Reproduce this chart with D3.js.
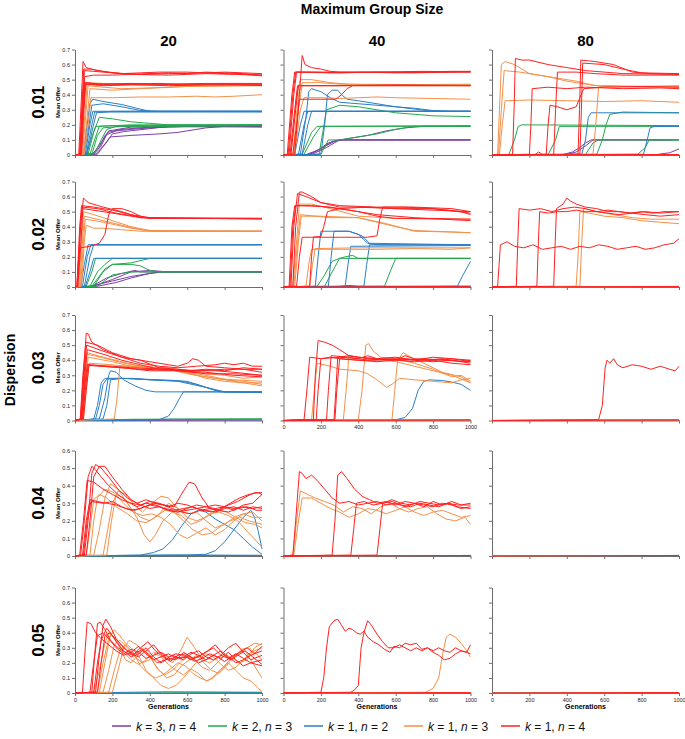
<!DOCTYPE html>
<html><head><meta charset="utf-8">
<script src="https://cdn.jsdelivr.net/npm/d3@7"></script>
<style>body{margin:0;background:#fff}svg{display:block}text{font-family:"Liberation Sans",Arial,Helvetica,sans-serif}</style>
</head><body><svg id="c" width="685" height="739"></svg>
<script>
// ---------- labels / categories ----------
const seriesNames = [["k"," = 3, ","n"," = 4"],["k"," = 2, ","n"," = 3"],["k"," = 1, ","n"," = 2"],["k"," = 1, ","n"," = 3"],["k"," = 1, ","n"," = 4"]];
const seriesColors = ["#7b3fa6","#22a94c","#2a7fc8","#f59048","#ff2020"];
const rowLabels = ["0.01","0.02","0.03","0.04","0.05"];
const colLabels = ["20","40","80"];
const rowYMax = [0.7,0.7,0.7,0.6,0.7];
const xTicks = [0,200,400,600,800,1000];

// ---------- data: each line = [seriesIndex, gen0,val0, gen1,val1, ...] ----------
const r1c1 = [
[0, 0,0, 90,0.005, 130,0.05, 160,0.13, 220,0.16, 300,0.17, 400,0.18, 500,0.185, 600,0.19, 800,0.19, 1000,0.19],
[0, 0,0, 100,0.005, 140,0.06, 175,0.15, 250,0.17, 350,0.18, 450,0.19, 1000,0.19],
[0, 0,0, 110,0.005, 160,0.07, 190,0.12, 300,0.13, 450,0.14, 550,0.15, 700,0.18, 800,0.19, 1000,0.19],
[0, 0,0, 95,0.005, 150,0.1, 180,0.16, 300,0.185, 1000,0.19],
[0, 0,0, 120,0.005, 170,0.09, 200,0.14, 260,0.155, 400,0.175, 500,0.19, 1000,0.185],
[1, 0,0, 60,0.005, 90,0.12, 110,0.19, 200,0.195, 400,0.195, 1000,0.2],
[1, 0,0, 70,0.005, 100,0.15, 130,0.25, 200,0.24, 300,0.22, 400,0.21, 500,0.2, 1000,0.2],
[1, 0,0, 80,0.005, 110,0.12, 130,0.19, 300,0.2, 1000,0.2],
[1, 0,0, 90,0.005, 120,0.13, 150,0.18, 250,0.19, 1000,0.195],
[1, 0,0, 105,0.01, 140,0.1, 170,0.17, 220,0.19, 1000,0.195],
[2, 0,0, 45,0.005, 65,0.2, 80,0.34, 95,0.37, 150,0.355, 250,0.335, 330,0.31, 400,0.29, 1000,0.29],
[2, 0,0, 50,0.005, 75,0.2, 90,0.33, 150,0.34, 250,0.32, 350,0.295, 450,0.29, 1000,0.29],
[2, 0,0, 55,0.005, 80,0.2, 95,0.29, 300,0.29, 1000,0.29],
[2, 0,0, 60,0.005, 90,0.2, 105,0.285, 1000,0.285],
[2, 0,0, 65,0.005, 95,0.18, 115,0.28, 200,0.29, 1000,0.29],
[3, 0,0, 35,0.005, 55,0.3, 65,0.48, 150,0.475, 300,0.47, 600,0.465, 800,0.47, 1000,0.47],
[3, 0,0, 40,0.005, 60,0.3, 70,0.46, 150,0.45, 250,0.44, 400,0.445, 600,0.455, 800,0.46, 1000,0.465],
[3, 0,0, 45,0.005, 65,0.25, 80,0.44, 200,0.43, 350,0.44, 600,0.455, 1000,0.46],
[3, 0,0, 50,0.005, 70,0.2, 85,0.38, 200,0.38, 350,0.385, 500,0.385, 650,0.39, 750,0.385, 850,0.39, 1000,0.40],
[4, 0,0, 20,0.005, 35,0.4, 43,0.62, 60,0.58, 120,0.56, 200,0.545, 300,0.535, 400,0.54, 500,0.545, 600,0.54, 700,0.55, 800,0.545, 900,0.54, 1000,0.53],
[4, 0,0, 25,0.005, 38,0.35, 47,0.57, 80,0.57, 150,0.555, 250,0.54, 350,0.545, 450,0.55, 600,0.55, 700,0.545, 800,0.55, 900,0.545, 1000,0.54],
[4, 0,0, 28,0.005, 40,0.3, 50,0.56, 100,0.555, 200,0.545, 350,0.535, 500,0.54, 700,0.545, 900,0.535, 1000,0.525],
[4, 0,0, 30,0.005, 42,0.3, 52,0.52, 100,0.53, 200,0.53, 300,0.535, 500,0.53, 700,0.54, 850,0.535, 1000,0.53],
[4, 0,0, 25,0.005, 38,0.3, 48,0.48, 150,0.47, 300,0.47, 450,0.475, 600,0.465, 800,0.47, 1000,0.47],
[4, 0,0, 30,0.005, 42,0.3, 54,0.47, 200,0.465, 350,0.47, 500,0.47, 800,0.47, 1000,0.46],
[4, 0,0, 35,0.005, 48,0.3, 58,0.47, 150,0.46, 300,0.465, 500,0.46, 700,0.465, 1000,0.465],
[4, 0,0, 32,0.005, 45,0.3, 55,0.48, 120,0.47, 300,0.475, 500,0.47, 700,0.475, 1000,0.475]
];
const r1c2 = [
[0, 0,0, 120,0.003, 180,0.03, 240,0.08, 300,0.1, 1000,0.1],
[0, 0,0, 130,0.003, 200,0.04, 260,0.09, 320,0.1, 1000,0.1],
[0, 0,0, 150,0.003, 230,0.05, 300,0.1, 1000,0.1],
[0, 0,0, 140,0.003, 210,0.05, 280,0.095, 350,0.11, 450,0.13, 550,0.16, 650,0.18, 750,0.19, 1000,0.19],
[1, 0,0, 100,0.005, 150,0.15, 180,0.19, 1000,0.195],
[1, 0,0, 110,0.005, 160,0.12, 200,0.19, 1000,0.19],
[1, 0,0, 200,0.005, 240,0.1, 300,0.1, 400,0.12, 500,0.14, 600,0.17, 700,0.19, 1000,0.19],
[1, 0,0, 190,0.005, 210,0.15, 230,0.3, 300,0.33, 400,0.32, 500,0.3, 600,0.28, 700,0.27, 800,0.26, 1000,0.255],
[2, 0,0, 60,0.005, 90,0.2, 110,0.29, 1000,0.29],
[2, 0,0, 80,0.005, 110,0.2, 130,0.29, 1000,0.29],
[2, 0,0, 100,0.005, 130,0.2, 150,0.29, 1000,0.29],
[2, 0,0, 90,0.005, 120,0.25, 135,0.42, 150,0.44, 200,0.42, 250,0.38, 300,0.35, 400,0.34, 500,0.33, 600,0.32, 700,0.31, 800,0.295, 900,0.29, 1000,0.29],
[2, 0,0, 200,0.005, 220,0.2, 235,0.4, 260,0.43, 290,0.43, 310,0.4, 340,0.37, 400,0.36, 500,0.34, 600,0.32, 700,0.305, 800,0.29, 1000,0.29],
[3, 0,0, 40,0.005, 70,0.4, 90,0.5, 150,0.5, 250,0.48, 350,0.47, 500,0.465, 1000,0.47],
[3, 0,0, 50,0.005, 80,0.4, 100,0.48, 200,0.48, 300,0.47, 1000,0.465],
[3, 0,0, 55,0.005, 85,0.35, 100,0.46, 300,0.46, 600,0.465, 1000,0.465],
[3, 0,0, 60,0.005, 90,0.3, 110,0.38, 200,0.38, 300,0.375, 400,0.38, 500,0.385, 600,0.38, 800,0.375, 1000,0.37],
[4, 0,0, 60,0.005, 85,0.4, 100,0.66, 115,0.6, 150,0.58, 200,0.57, 250,0.555, 300,0.55, 500,0.55, 700,0.55, 900,0.555, 1000,0.555],
[4, 0,0, 20,0.005, 45,0.4, 60,0.55, 150,0.55, 300,0.545, 500,0.55, 700,0.545, 900,0.55, 1000,0.555],
[4, 0,0, 25,0.005, 50,0.4, 65,0.55, 200,0.55, 400,0.55, 600,0.545, 800,0.55, 1000,0.55],
[4, 0,0, 30,0.005, 55,0.4, 70,0.55, 250,0.545, 500,0.55, 750,0.555, 1000,0.55],
[4, 0,0, 35,0.005, 60,0.3, 75,0.46, 300,0.46, 600,0.465, 1000,0.46],
[4, 0,0, 40,0.005, 65,0.3, 80,0.46, 400,0.46, 700,0.46, 1000,0.46],
[4, 0,0, 50,0.005, 70,0.2, 85,0.37, 200,0.37, 280,0.37, 310,0.4, 340,0.44, 370,0.46, 500,0.46, 1000,0.46]
];
const r1c3 = [
[0, 0,0, 1000,0.003],
[0, 0,0, 380,0.003, 430,0.02, 470,0.05, 500,0.08, 530,0.1, 1000,0.1],
[0, 0,0, 400,0.003, 450,0.02, 500,0.06, 540,0.1, 960,0.1],
[0, 0,0, 880,0.003, 950,0.015, 1000,0.04],
[1, 0,0, 1000,0.003],
[1, 0,0, 90,0.003, 120,0.1, 140,0.19, 160,0.2, 1000,0.195],
[1, 0,0, 300,0.003, 340,0.1, 360,0.19, 1000,0.19],
[1, 0,0, 560,0.005, 590,0.1, 610,0.2, 630,0.27, 700,0.285, 1000,0.28],
[1, 0,0, 500,0.003, 540,0.08, 570,0.1, 1000,0.1],
[1, 0,0, 780,0.005, 820,0.05, 840,0.1, 1000,0.1],
[2, 0,0, 1000,0.003],
[2, 0,0, 480,0.005, 500,0.1, 515,0.25, 530,0.28, 1000,0.28],
[2, 0,0, 810,0.005, 830,0.1, 845,0.18, 870,0.19, 1000,0.19],
[3, 0,0, 1000,0.003],
[3, 0,0, 30,0.005, 40,0.3, 50,0.6, 70,0.62, 120,0.6, 200,0.54, 300,0.52, 400,0.49, 500,0.47, 600,0.455, 800,0.45, 1000,0.45],
[3, 0,0, 35,0.005, 50,0.3, 65,0.56, 150,0.55, 250,0.53, 350,0.51, 450,0.49, 550,0.46, 700,0.455, 1000,0.455],
[3, 0,0, 40,0.005, 55,0.2, 70,0.36, 200,0.365, 400,0.36, 600,0.355, 800,0.36, 1000,0.35],
[3, 0,0, 540,0.005, 555,0.2, 570,0.45, 600,0.46, 800,0.455, 1000,0.46],
[4, 0,0, 1000,0.003],
[4, 0,0, 110,0.005, 118,0.3, 125,0.64, 160,0.63, 200,0.63, 300,0.6, 400,0.58, 500,0.56, 600,0.55, 700,0.54, 1000,0.535],
[4, 0,0, 330,0.005, 340,0.3, 350,0.55, 450,0.55, 550,0.54, 700,0.53, 1000,0.53],
[4, 0,0, 200,0.005, 208,0.2, 215,0.44, 300,0.45, 400,0.44, 500,0.45, 600,0.445, 700,0.44, 900,0.445, 1000,0.44],
[4, 0,0, 290,0.005, 300,0.2, 310,0.33, 350,0.32, 400,0.3, 450,0.32, 470,0.38, 490,0.44, 600,0.45, 800,0.455, 1000,0.45],
[4, 0,0, 460,0.005, 468,0.3, 475,0.63, 550,0.62, 650,0.6, 750,0.55, 850,0.54, 1000,0.535],
[4, 0,0, 470,0.005, 478,0.3, 485,0.61, 600,0.6, 700,0.57, 800,0.545, 1000,0.54],
[4, 0,0, 230,0.003, 250,0.02, 270,0.003, 1000,0.003]
];
const r2c1 = [
[0, 0,0, 80,0.005, 200,0.04, 300,0.07, 400,0.09, 450,0.1, 1000,0.1],
[0, 0,0, 100,0.005, 200,0.05, 260,0.08, 300,0.1, 400,0.11, 500,0.1, 1000,0.1],
[0, 0,0, 120,0.005, 220,0.03, 300,0.06, 400,0.09, 480,0.1, 1000,0.1],
[0, 0,0, 90,0.005, 170,0.06, 250,0.09, 320,0.11, 350,0.1, 1000,0.1],
[1, 0,0, 60,0.005, 90,0.1, 110,0.19, 1000,0.19],
[1, 0,0, 80,0.005, 120,0.1, 160,0.15, 200,0.19, 1000,0.19],
[1, 0,0, 100,0.005, 150,0.1, 200,0.15, 300,0.15, 350,0.14, 400,0.11, 450,0.1, 1000,0.1],
[1, 0,0, 90,0.005, 160,0.12, 200,0.15, 300,0.16, 400,0.19, 1000,0.19],
[1, 0,0, 120,0.005, 200,0.08, 300,0.1, 1000,0.1],
[2, 0,0, 30,0.005, 50,0.15, 70,0.28, 1000,0.28],
[2, 0,0, 40,0.005, 65,0.2, 85,0.28, 1000,0.28],
[2, 0,0, 50,0.005, 80,0.2, 100,0.28, 1000,0.28],
[2, 0,0, 55,0.005, 80,0.1, 100,0.19, 1000,0.19],
[3, 0,0, 20,0.005, 35,0.3, 45,0.5, 100,0.48, 200,0.44, 300,0.4, 400,0.375, 1000,0.37],
[3, 0,0, 25,0.005, 40,0.3, 50,0.47, 150,0.44, 250,0.41, 350,0.38, 450,0.37, 1000,0.37],
[3, 0,0, 30,0.005, 45,0.3, 55,0.45, 150,0.43, 300,0.39, 400,0.37, 1000,0.37],
[3, 0,0, 35,0.005, 50,0.3, 60,0.41, 100,0.39, 150,0.39, 250,0.38, 350,0.37, 1000,0.37],
[4, 0,0, 15,0.005, 30,0.4, 45,0.59, 70,0.56, 150,0.53, 250,0.5, 350,0.46, 450,0.455, 600,0.455, 800,0.455, 1000,0.455],
[4, 0,0, 10,0.005, 25,0.4, 35,0.54, 100,0.53, 200,0.51, 300,0.48, 400,0.46, 700,0.455, 1000,0.45],
[4, 0,0, 12,0.005, 28,0.4, 38,0.53, 120,0.52, 220,0.49, 320,0.47, 400,0.455, 1000,0.455],
[4, 0,0, 15,0.005, 32,0.3, 42,0.52, 150,0.5, 250,0.48, 350,0.46, 1000,0.455],
[4, 0,0, 10,0.005, 20,0.2, 30,0.26, 80,0.27, 130,0.29, 160,0.35, 180,0.48, 200,0.52, 250,0.52, 300,0.5, 350,0.47, 400,0.455, 1000,0.455]
];
const r2c2 = [
[0, 0,0, 300,0.005, 350,0.01, 400,0.005, 1000,0.005],
[1, 0,0, 1000,0.004],
[1, 0,0, 180,0.005, 220,0.08, 260,0.17, 300,0.19, 1000,0.19],
[1, 0,0, 220,0.005, 260,0.1, 300,0.19, 330,0.2, 370,0.21, 400,0.19, 1000,0.19],
[1, 0,0, 540,0.005, 570,0.1, 600,0.19, 1000,0.19],
[2, 0,0, 1000,0.004],
[2, 0,0, 170,0.005, 185,0.2, 200,0.37, 350,0.37, 400,0.35, 450,0.29, 500,0.28, 1000,0.28],
[2, 0,0, 240,0.005, 255,0.2, 270,0.37, 350,0.37, 420,0.34, 460,0.29, 1000,0.28],
[2, 0,0, 330,0.005, 345,0.15, 360,0.27, 1000,0.275],
[2, 0,0, 430,0.005, 445,0.15, 460,0.28, 1000,0.28],
[2, 0,0, 930,0.005, 960,0.08, 1000,0.17],
[3, 0,0, 50,0.005, 70,0.3, 85,0.55, 150,0.55, 250,0.52, 400,0.47, 600,0.455, 800,0.45, 1000,0.45],
[3, 0,0, 60,0.005, 80,0.3, 95,0.47, 200,0.47, 300,0.465, 400,0.46, 500,0.43, 600,0.4, 700,0.375, 800,0.37, 1000,0.36],
[3, 0,0, 55,0.005, 75,0.3, 90,0.48, 250,0.46, 400,0.46, 550,0.42, 700,0.37, 900,0.365, 1000,0.36],
[3, 0,0, 120,0.005, 135,0.15, 150,0.25, 300,0.25, 500,0.25, 700,0.255, 900,0.25, 1000,0.26],
[3, 0,0, 140,0.005, 155,0.15, 170,0.255, 400,0.26, 600,0.26, 800,0.26, 1000,0.26],
[4, 0,0, 1000,0.004],
[4, 0,0, 50,0.005, 65,0.4, 85,0.63, 100,0.63, 150,0.6, 200,0.56, 300,0.53, 400,0.53, 600,0.52, 800,0.52, 950,0.5, 1000,0.48],
[4, 0,0, 40,0.005, 55,0.4, 75,0.62, 120,0.6, 200,0.56, 300,0.54, 500,0.53, 700,0.53, 900,0.52, 1000,0.5],
[4, 0,0, 30,0.005, 45,0.4, 60,0.54, 150,0.54, 250,0.53, 400,0.5, 500,0.47, 600,0.455, 800,0.455, 1000,0.45],
[4, 0,0, 35,0.005, 50,0.4, 65,0.54, 200,0.535, 350,0.51, 500,0.48, 700,0.46, 1000,0.44],
[4, 0,0, 70,0.005, 85,0.2, 100,0.33, 150,0.33, 200,0.335, 215,0.4, 235,0.5, 300,0.52, 450,0.53, 600,0.52, 800,0.51, 1000,0.5],
[4, 0,0, 140,0.005, 150,0.2, 160,0.33, 300,0.33, 450,0.33, 500,0.34, 515,0.45, 530,0.53, 650,0.53, 800,0.52, 1000,0.49]
];
const r2c3 = [
[0, 0,0, 1000,0.003],
[1, 0,0, 1000,0.003],
[2, 0,0, 1000,0.003],
[3, 0,0, 1000,0.003],
[3, 0,0, 450,0.005, 460,0.2, 470,0.5, 520,0.49, 600,0.47, 700,0.46, 800,0.44, 900,0.43, 1000,0.42],
[3, 0,0, 470,0.005, 480,0.3, 490,0.52, 560,0.5, 650,0.48, 750,0.46, 850,0.45, 1000,0.45],
[4, 0,0, 1000,0.004],
[4, 0,0, 30,0.005, 38,0.15, 45,0.28, 80,0.3, 120,0.27, 170,0.26, 220,0.28, 270,0.25, 320,0.26, 370,0.27, 420,0.25, 470,0.27, 520,0.26, 570,0.28, 620,0.27, 670,0.25, 720,0.26, 770,0.27, 820,0.25, 870,0.26, 920,0.28, 970,0.29, 1000,0.32],
[4, 0,0, 130,0.005, 138,0.3, 145,0.52, 200,0.51, 260,0.52, 320,0.5, 380,0.52, 440,0.53, 500,0.52, 560,0.5, 620,0.51, 680,0.5, 740,0.49, 800,0.5, 860,0.49, 920,0.5, 1000,0.5],
[4, 0,0, 240,0.005, 248,0.3, 255,0.5, 300,0.49, 350,0.5, 400,0.5, 450,0.51, 500,0.5, 560,0.5, 620,0.49, 680,0.48, 750,0.49, 820,0.48, 900,0.47, 1000,0.48],
[4, 0,0, 330,0.005, 338,0.3, 345,0.52, 380,0.55, 400,0.59, 420,0.57, 450,0.55, 500,0.53, 560,0.52, 620,0.5, 680,0.5, 750,0.49, 820,0.5, 900,0.49, 1000,0.5]
];
const r3c1 = [
[0, 0,0, 1000,0.003],
[2, 0,0, 400,0.005, 500,0.008, 1000,0.005],
[2, 0,0, 100,0.01, 120,0.1, 140,0.25, 160,0.28, 250,0.28, 350,0.275, 450,0.27, 550,0.265, 650,0.24, 750,0.2, 800,0.19, 1000,0.185],
[2, 0,0, 110,0.01, 130,0.1, 150,0.24, 170,0.275, 300,0.28, 400,0.27, 500,0.265, 600,0.26, 700,0.22, 780,0.19, 1000,0.19],
[2, 0,0, 130,0.01, 160,0.15, 180,0.3, 190,0.33, 220,0.32, 260,0.27, 320,0.23, 380,0.2, 430,0.19, 1000,0.19],
[2, 0,0, 150,0.01, 170,0.1, 190,0.27, 250,0.28, 400,0.27, 550,0.26, 700,0.22, 800,0.19, 1000,0.185],
[2, 0,0, 450,0.005, 500,0.03, 530,0.08, 560,0.15, 580,0.19, 1000,0.19],
[1, 0,0, 300,0.008, 600,0.01, 1000,0.012],
[3, 0,0, 30,0.01, 45,0.2, 60,0.44, 100,0.43, 200,0.4, 300,0.37, 400,0.355, 500,0.34, 600,0.31, 700,0.29, 800,0.27, 900,0.26, 1000,0.24],
[3, 0,0, 35,0.01, 50,0.2, 65,0.45, 150,0.42, 250,0.39, 350,0.36, 450,0.35, 550,0.33, 650,0.3, 750,0.28, 850,0.27, 1000,0.26],
[3, 0,0, 40,0.01, 55,0.2, 70,0.42, 200,0.39, 300,0.36, 400,0.35, 500,0.35, 600,0.33, 700,0.31, 800,0.3, 900,0.28, 1000,0.29],
[3, 0,0, 45,0.01, 60,0.2, 75,0.38, 200,0.37, 350,0.35, 500,0.34, 700,0.3, 850,0.26, 1000,0.23],
[3, 0,0, 210,0.01, 225,0.15, 240,0.36, 300,0.36, 400,0.355, 500,0.34, 600,0.32, 700,0.28, 800,0.26, 900,0.25, 1000,0.25],
[4, 0,0, 30,0.01, 45,0.3, 60,0.58, 70,0.575, 90,0.52, 150,0.47, 250,0.42, 350,0.4, 450,0.35, 550,0.34, 650,0.33, 750,0.33, 850,0.32, 1000,0.3],
[4, 0,0, 28,0.01, 42,0.3, 58,0.52, 120,0.5, 200,0.45, 300,0.41, 400,0.39, 500,0.37, 550,0.36, 600,0.38, 630,0.41, 660,0.4, 700,0.36, 800,0.35, 900,0.34, 1000,0.32],
[4, 0,0, 32,0.01, 48,0.3, 62,0.5, 150,0.46, 250,0.42, 350,0.38, 450,0.36, 550,0.35, 650,0.36, 750,0.37, 800,0.38, 850,0.37, 900,0.38, 950,0.36, 1000,0.36],
[4, 0,0, 35,0.01, 50,0.2, 65,0.37, 200,0.36, 300,0.35, 400,0.345, 500,0.34, 600,0.33, 700,0.34, 800,0.33, 900,0.35, 1000,0.34],
[4, 0,0, 40,0.01, 55,0.2, 70,0.37, 200,0.355, 350,0.34, 500,0.335, 650,0.33, 800,0.34, 1000,0.34],
[4, 0,0, 45,0.01, 60,0.2, 75,0.365, 250,0.35, 400,0.33, 550,0.33, 700,0.32, 850,0.3, 1000,0.29],
[4, 0,0, 38,0.01, 52,0.3, 66,0.47, 150,0.44, 250,0.4, 350,0.37, 450,0.34, 550,0.33, 700,0.31, 850,0.31, 1000,0.3]
];
const r3c2 = [
[0, 0,0, 1000,0.003],
[1, 0,0, 1000,0.003],
[2, 0,0, 1000,0.003],
[2, 0,0, 600,0.005, 650,0.02, 690,0.08, 720,0.2, 750,0.26, 780,0.27, 850,0.265, 900,0.255, 950,0.24, 1000,0.2],
[3, 0,0, 1000,0.003],
[3, 0,0, 150,0.005, 165,0.2, 180,0.38, 250,0.36, 300,0.34, 400,0.33, 450,0.31, 500,0.27, 550,0.22, 580,0.24, 620,0.28, 700,0.27, 800,0.26, 900,0.25, 950,0.27, 1000,0.28],
[3, 0,0, 320,0.005, 335,0.2, 350,0.43, 400,0.42, 500,0.41, 600,0.39, 700,0.36, 800,0.33, 900,0.3, 1000,0.25],
[3, 0,0, 400,0.005, 420,0.2, 440,0.5, 455,0.51, 480,0.46, 520,0.42, 600,0.41, 700,0.38, 800,0.34, 900,0.29, 950,0.3, 1000,0.26],
[3, 0,0, 580,0.005, 595,0.2, 610,0.4, 640,0.45, 680,0.42, 750,0.38, 850,0.32, 950,0.29, 1000,0.25],
[4, 0,0, 1000,0.003],
[4, 0,0, 110,0.005, 125,0.2, 140,0.42, 200,0.41, 250,0.42, 300,0.41, 400,0.4, 500,0.4, 600,0.41, 700,0.4, 800,0.39, 900,0.4, 1000,0.38],
[4, 0,0, 160,0.005, 170,0.3, 185,0.53, 220,0.52, 260,0.5, 300,0.47, 350,0.43, 400,0.42, 500,0.41, 600,0.42, 700,0.4, 800,0.42, 900,0.41, 1000,0.4],
[4, 0,0, 175,0.005, 185,0.2, 200,0.41, 300,0.42, 400,0.41, 450,0.43, 500,0.41, 600,0.4, 650,0.43, 700,0.41, 800,0.4, 900,0.41, 1000,0.39],
[4, 0,0, 270,0.005, 280,0.2, 290,0.42, 350,0.43, 450,0.41, 550,0.4, 650,0.41, 750,0.4, 850,0.41, 950,0.39, 1000,0.4],
[4, 0,0, 275,0.005, 285,0.2, 300,0.41, 400,0.4, 500,0.39, 600,0.4, 700,0.39, 800,0.4, 900,0.38, 1000,0.37],
[4, 0,0, 230,0.005, 240,0.2, 255,0.43, 350,0.42, 450,0.4, 550,0.41, 650,0.4, 750,0.41, 850,0.4, 1000,0.39]
];
const r3c3 = [
[0, 0,0, 1000,0.003],
[1, 0,0, 1000,0.003],
[2, 0,0, 1000,0.003],
[3, 0,0, 1000,0.003],
[4, 0,0, 1000,0.003],
[4, 0,0, 570,0.005, 590,0.1, 605,0.35, 615,0.4, 630,0.38, 650,0.41, 670,0.37, 700,0.35, 750,0.37, 800,0.36, 850,0.34, 900,0.36, 950,0.34, 980,0.33, 1000,0.36]
];
const r4c1 = [
[0, 0,0, 1000,0.003],
[1, 0,0, 1000,0.003],
[2, 0,0, 350,0.005, 420,0.02, 470,0.04, 520,0.09, 570,0.17, 620,0.24, 660,0.26, 700,0.25, 750,0.21, 800,0.18, 850,0.15, 900,0.1, 950,0.05, 1000,0.01],
[2, 0,0, 600,0.005, 700,0.01, 750,0.03, 800,0.08, 850,0.15, 900,0.22, 940,0.26, 960,0.22, 980,0.14, 1000,0.04],
[3, 0,0, 60,0.005, 80,0.15, 100,0.32, 130,0.35, 170,0.33, 220,0.28, 280,0.24, 330,0.2, 380,0.19, 430,0.22, 480,0.26, 530,0.25, 580,0.2, 630,0.15, 680,0.12, 730,0.13, 780,0.17, 830,0.2, 880,0.22, 930,0.2, 1000,0.18],
[3, 0,0, 100,0.005, 130,0.15, 160,0.33, 190,0.41, 230,0.38, 280,0.3, 330,0.22, 370,0.12, 400,0.08, 430,0.12, 470,0.2, 520,0.25, 570,0.23, 620,0.18, 670,0.2, 720,0.24, 770,0.25, 820,0.23, 870,0.2, 930,0.13, 1000,0.05],
[3, 0,0, 150,0.005, 175,0.15, 200,0.3, 230,0.37, 270,0.35, 310,0.3, 360,0.25, 410,0.3, 460,0.34, 500,0.33, 540,0.28, 600,0.22, 650,0.2, 700,0.22, 760,0.26, 810,0.25, 860,0.22, 910,0.19, 960,0.18, 1000,0.16],
[3, 0,0, 80,0.005, 100,0.2, 120,0.33, 160,0.38, 210,0.36, 260,0.3, 310,0.25, 360,0.23, 410,0.24, 460,0.22, 510,0.18, 560,0.12, 600,0.1, 650,0.13, 700,0.16, 750,0.12, 800,0.15, 850,0.2, 900,0.24, 950,0.22, 1000,0.22],
[3, 0,0, 170,0.005, 195,0.2, 220,0.35, 260,0.33, 300,0.27, 350,0.22, 400,0.2, 450,0.24, 500,0.3, 550,0.27, 600,0.24, 650,0.25, 700,0.2, 750,0.16, 800,0.18, 850,0.22, 900,0.24, 950,0.25, 1000,0.2],
[4, 0,0, 30,0.005, 50,0.2, 70,0.45, 90,0.51, 110,0.49, 140,0.45, 180,0.4, 230,0.35, 280,0.31, 330,0.28, 380,0.3, 430,0.29, 480,0.27, 530,0.26, 580,0.27, 630,0.28, 680,0.26, 730,0.25, 780,0.27, 830,0.3, 880,0.33, 930,0.35, 980,0.36, 1000,0.35],
[4, 0,0, 25,0.005, 45,0.2, 65,0.43, 100,0.42, 150,0.38, 200,0.35, 250,0.32, 300,0.3, 350,0.29, 400,0.31, 450,0.3, 500,0.28, 550,0.3, 600,0.29, 650,0.27, 700,0.28, 750,0.29, 800,0.28, 850,0.27, 900,0.28, 950,0.27, 1000,0.28],
[4, 0,0, 50,0.005, 70,0.2, 90,0.47, 110,0.52, 140,0.5, 180,0.45, 230,0.38, 280,0.33, 330,0.3, 380,0.32, 430,0.3, 480,0.29, 530,0.28, 580,0.37, 610,0.42, 640,0.41, 680,0.33, 720,0.27, 770,0.26, 820,0.29, 870,0.31, 920,0.34, 960,0.36, 1000,0.36],
[4, 0,0, 60,0.005, 80,0.2, 100,0.45, 130,0.51, 160,0.51, 200,0.45, 250,0.38, 300,0.32, 350,0.29, 400,0.27, 450,0.28, 500,0.26, 550,0.25, 600,0.26, 650,0.27, 700,0.26, 750,0.25, 800,0.27, 850,0.28, 900,0.26, 950,0.28, 1000,0.27],
[4, 0,0, 40,0.005, 60,0.2, 80,0.32, 120,0.31, 170,0.3, 220,0.29, 270,0.27, 320,0.26, 370,0.28, 420,0.3, 470,0.29, 520,0.27, 570,0.25, 620,0.24, 670,0.26, 720,0.27, 770,0.26, 820,0.25, 870,0.27, 920,0.28, 970,0.26, 1000,0.26],
[4, 0,0, 45,0.005, 65,0.2, 85,0.31, 150,0.3, 200,0.31, 250,0.28, 300,0.26, 350,0.27, 400,0.29, 450,0.28, 500,0.26, 550,0.25, 600,0.27, 650,0.29, 700,0.28, 750,0.27, 800,0.28, 850,0.26, 900,0.29, 950,0.3, 1000,0.35],
[2, 0,0, 300,0.004, 500,0.006, 1000,0.004]
];
const r4c2 = [
[0, 0,0, 1000,0.003],
[1, 0,0, 1000,0.003],
[2, 0,0, 1000,0.003],
[3, 0,0, 1000,0.003],
[3, 0,0, 50,0.005, 70,0.2, 90,0.37, 130,0.35, 170,0.33, 220,0.31, 270,0.29, 320,0.25, 370,0.28, 420,0.27, 470,0.24, 520,0.28, 570,0.3, 620,0.27, 670,0.25, 720,0.27, 770,0.28, 820,0.24, 870,0.21, 920,0.2, 970,0.22, 1000,0.18],
[3, 0,0, 55,0.005, 80,0.2, 100,0.33, 150,0.33, 200,0.3, 250,0.27, 300,0.25, 350,0.22, 400,0.24, 450,0.27, 500,0.26, 550,0.24, 600,0.26, 650,0.28, 700,0.25, 750,0.23, 800,0.25, 850,0.26, 900,0.24, 950,0.22, 1000,0.23],
[4, 0,0, 1000,0.003],
[4, 0,0, 50,0.005, 65,0.2, 85,0.48, 100,0.47, 120,0.44, 150,0.46, 180,0.43, 220,0.38, 260,0.33, 300,0.3, 350,0.31, 400,0.29, 450,0.3, 500,0.31, 550,0.29, 600,0.3, 650,0.28, 700,0.3, 750,0.29, 800,0.28, 850,0.3, 900,0.29, 950,0.27, 1000,0.28],
[4, 0,0, 260,0.005, 275,0.2, 290,0.46, 310,0.48, 340,0.44, 380,0.38, 420,0.34, 460,0.32, 500,0.3, 550,0.31, 600,0.29, 650,0.31, 700,0.3, 750,0.28, 800,0.31, 850,0.29, 900,0.31, 950,0.29, 1000,0.3],
[4, 0,0, 360,0.005, 375,0.15, 390,0.3, 430,0.31, 480,0.29, 530,0.3, 580,0.31, 630,0.29, 680,0.28, 730,0.3, 780,0.29, 830,0.28, 880,0.3, 930,0.28, 1000,0.27],
[4, 0,0, 500,0.005, 515,0.15, 530,0.3, 580,0.32, 630,0.3, 680,0.29, 730,0.31, 780,0.3, 830,0.29, 880,0.3, 930,0.29, 1000,0.29]
];
const r4c3 = [
[0, 0,0, 1000,0.003],
[1, 0,0, 1000,0.003],
[2, 0,0, 1000,0.003],
[3, 0,0, 1000,0.003],
[4, 0,0, 1000,0.003]
];
const r5c1 = [
[1, 0,0, 1000,0.003],
[2, 0,0, 300,0.005, 500,0.008, 1000,0.005],
[3, 0,0, 100,0.005, 130,0.15, 160,0.33, 180,0.4, 210,0.37, 240,0.3, 270,0.22, 300,0.2, 330,0.24, 360,0.3, 400,0.25, 440,0.16, 480,0.12, 520,0.15, 560,0.2, 600,0.25, 640,0.22, 680,0.17, 720,0.15, 760,0.2, 800,0.25, 840,0.22, 880,0.27, 920,0.3, 960,0.33, 1000,0.32],
[3, 0,0, 120,0.005, 150,0.2, 180,0.36, 210,0.42, 240,0.38, 270,0.33, 300,0.3, 340,0.25, 380,0.15, 420,0.1, 460,0.05, 500,0.03, 540,0.05, 580,0.1, 620,0.16, 660,0.13, 700,0.08, 740,0.1, 780,0.15, 820,0.2, 860,0.15, 900,0.1, 940,0.08, 980,0.03, 1000,0.01],
[3, 0,0, 150,0.005, 180,0.15, 210,0.32, 240,0.35, 280,0.3, 320,0.24, 360,0.2, 400,0.22, 440,0.28, 480,0.25, 520,0.2, 560,0.27, 600,0.37, 640,0.3, 680,0.22, 720,0.2, 760,0.23, 800,0.26, 840,0.23, 880,0.2, 920,0.22, 960,0.3, 1000,0.33],
[3, 0,0, 180,0.005, 210,0.15, 240,0.28, 270,0.32, 310,0.27, 350,0.18, 390,0.13, 430,0.1, 470,0.12, 510,0.16, 550,0.2, 590,0.18, 630,0.13, 670,0.1, 710,0.08, 750,0.12, 790,0.17, 830,0.22, 870,0.26, 910,0.28, 950,0.2, 1000,0.1],
[3, 0,0, 200,0.005, 230,0.15, 260,0.3, 290,0.35, 330,0.32, 370,0.27, 410,0.22, 450,0.15, 490,0.1, 530,0.12, 570,0.18, 610,0.22, 650,0.25, 690,0.2, 730,0.15, 770,0.13, 810,0.18, 850,0.24, 890,0.29, 930,0.3, 970,0.26, 1000,0.22],
[3, 0,0, 130,0.005, 160,0.2, 190,0.39, 220,0.35, 260,0.27, 300,0.22, 340,0.19, 380,0.22, 420,0.27, 460,0.24, 500,0.19, 540,0.15, 580,0.12, 620,0.16, 660,0.22, 700,0.26, 740,0.24, 780,0.19, 820,0.15, 860,0.17, 900,0.22, 940,0.27, 1000,0.3],
[4, 0,0, 40,0.005, 55,0.3, 65,0.47, 85,0.46, 110,0.4, 140,0.36, 180,0.32, 220,0.28, 260,0.25, 300,0.27, 340,0.31, 380,0.26, 420,0.22, 460,0.24, 500,0.26, 540,0.23, 580,0.24, 620,0.27, 660,0.25, 700,0.22, 740,0.25, 780,0.28, 820,0.24, 860,0.2, 900,0.22, 940,0.25, 1000,0.28],
[4, 0,0, 90,0.005, 105,0.25, 120,0.46, 135,0.47, 160,0.42, 190,0.35, 230,0.3, 270,0.27, 310,0.25, 350,0.3, 390,0.34, 430,0.28, 470,0.24, 510,0.21, 550,0.25, 590,0.26, 630,0.23, 670,0.25, 710,0.28, 750,0.32, 790,0.26, 830,0.22, 870,0.25, 910,0.28, 950,0.24, 1000,0.19],
[4, 0,0, 110,0.005, 130,0.25, 150,0.45, 165,0.49, 190,0.44, 220,0.36, 260,0.3, 300,0.26, 340,0.24, 380,0.28, 420,0.32, 460,0.26, 500,0.22, 540,0.24, 580,0.22, 620,0.26, 660,0.28, 700,0.24, 740,0.22, 780,0.25, 820,0.3, 860,0.33, 900,0.27, 940,0.22, 1000,0.25],
[4, 0,0, 100,0.005, 120,0.2, 140,0.35, 170,0.43, 200,0.38, 240,0.33, 280,0.28, 320,0.26, 360,0.29, 400,0.25, 440,0.2, 480,0.22, 520,0.25, 560,0.23, 600,0.24, 640,0.21, 680,0.23, 720,0.26, 760,0.24, 800,0.21, 840,0.24, 880,0.27, 920,0.3, 960,0.26, 1000,0.31],
[4, 0,0, 80,0.005, 100,0.2, 120,0.38, 150,0.4, 180,0.36, 220,0.3, 260,0.26, 300,0.29, 340,0.27, 380,0.23, 420,0.25, 460,0.27, 500,0.24, 540,0.26, 580,0.25, 620,0.22, 660,0.24, 700,0.27, 740,0.3, 780,0.25, 820,0.23, 860,0.26, 900,0.23, 940,0.2, 1000,0.22],
[4, 0,0, 120,0.005, 140,0.2, 160,0.38, 190,0.4, 220,0.34, 260,0.28, 300,0.24, 340,0.26, 380,0.3, 420,0.24, 460,0.2, 500,0.23, 540,0.22, 580,0.27, 620,0.24, 660,0.2, 700,0.22, 740,0.25, 780,0.23, 820,0.27, 860,0.22, 900,0.18, 940,0.2, 1000,0.18]
];
const r5c2 = [
[0, 0,0, 1000,0.003],
[1, 0,0, 1000,0.003],
[2, 0,0, 1000,0.003],
[3, 0,0, 1000,0.003],
[3, 0,0, 760,0.005, 800,0.03, 830,0.1, 850,0.25, 870,0.37, 890,0.39, 920,0.37, 950,0.33, 980,0.28, 1000,0.24],
[4, 0,0, 1000,0.003],
[4, 0,0, 200,0.005, 215,0.1, 230,0.3, 245,0.44, 270,0.48, 290,0.49, 310,0.45, 330,0.41, 350,0.43, 370,0.42, 390,0.4, 410,0.39, 430,0.41, 450,0.37, 480,0.34, 510,0.32, 540,0.29, 570,0.27, 590,0.31, 620,0.3, 650,0.33, 680,0.32, 710,0.33, 740,0.29, 770,0.3, 800,0.28, 830,0.3, 860,0.28, 890,0.27, 920,0.3, 950,0.28, 980,0.27, 1000,0.32],
[4, 0,0, 360,0.005, 380,0.02, 400,0.05, 415,0.3, 430,0.4, 450,0.48, 470,0.45, 500,0.39, 530,0.34, 560,0.3, 590,0.3, 620,0.32, 650,0.3, 680,0.28, 710,0.3, 740,0.28, 770,0.3, 800,0.27, 830,0.25, 860,0.22, 890,0.23, 920,0.26, 950,0.28, 980,0.27, 1000,0.26]
];
const r5c3 = [
[0, 0,0, 1000,0.003],
[1, 0,0, 1000,0.003],
[2, 0,0, 1000,0.003],
[3, 0,0, 1000,0.003],
[4, 0,0, 1000,0.003]
];

const panels = [[r1c1,r1c2,r1c3],[r2c1,r2c2,r2c3],[r3c1,r3c2,r3c3],[r4c1,r4c2,r4c3],[r5c1,r5c2,r5c3]];

// ---------- layout ----------
const colX = [75, 283.5, 492];
const pw = 187;
const rowBottom = [155, 287, 420.5, 556, 693];
const ph = 105.5;

const svg = d3.select("#c");
const axisColor = "#6e6e6e";
const fmtY = d => d === 0 ? "0" : d3.format(".1f")(d);

panels.forEach((row, ri) => row.forEach((lines, ci) => {
  const ymax = rowYMax[ri];
  const x = d3.scaleLinear().domain([0, 1000]).range([colX[ci], colX[ci] + pw]);
  const y = d3.scaleLinear().domain([0, ymax]).range([rowBottom[ri], rowBottom[ri] - ph]);
  const g = svg.append("g");
  const yTicks = d3.range(0, Math.round(ymax * 10) + 1).map(i => i / 10);
  const ya = g.append("g").attr("transform", `translate(${colX[ci]},0)`)
    .call(d3.axisLeft(y).tickValues(yTicks).tickSize(3).tickSizeOuter(0).tickPadding(2)
      .tickFormat(ci === 0 ? fmtY : () => ""));
  const showX = ri === 4 || (ri === 2 && ci === 1);
  const xa = g.append("g").attr("transform", `translate(0,${rowBottom[ri]})`)
    .call(d3.axisBottom(x).tickValues(xTicks).tickSize(3).tickSizeOuter(0).tickPadding(2)
      .tickFormat(showX ? d3.format("d") : () => ""));
  [ya, xa].forEach(a => {
    a.selectAll("path,line").attr("stroke", axisColor).attr("stroke-width", 1);
    a.selectAll("text").attr("font-size", 5.5).attr("fill", "#222")
      .attr("font-family", "Liberation Sans, Arial, sans-serif");
  });
  if (ci === 0) {
    g.append("text").attr("transform", `translate(60,${rowBottom[ri] - ph / 2}) rotate(-90)`)
      .attr("text-anchor", "middle").attr("font-size", 6).attr("font-weight", "bold").text("Mean Offer");
  }
  if (ri === 4) {
    g.append("text").attr("x", colX[ci] + pw / 2).attr("y", rowBottom[ri] + 16)
      .attr("text-anchor", "middle").attr("font-size", 7).attr("font-weight", "bold").text("Generations");
  }
  const lineGen = d3.line().x(d => x(d[0])).y(d => y(d[1]));
  const data = lines.map(a => {
    const pts = [];
    for (let i = 1; i < a.length; i += 2) pts.push([a[i], a[i + 1]]);
    return { s: a[0], pts };
  });
  const ordered = d3.sort(data, d => d.s);
  g.append("g").selectAll("path").data(ordered).join("path")
    .attr("d", d => lineGen(d.pts)).attr("fill", "none")
    .attr("stroke", d => seriesColors[d.s]).attr("stroke-width", 1)
    .attr("stroke-linejoin", "round");
}));

// ---------- titles ----------
svg.append("text").attr("x", 372).attr("y", 14).attr("text-anchor", "middle")
  .attr("font-size", 14).attr("font-weight", "bold").text("Maximum Group Size");
colLabels.forEach((t, ci) => svg.append("text").attr("x", colX[ci] + pw / 2).attr("y", 46)
  .attr("text-anchor", "middle").attr("font-size", 15).attr("font-weight", "bold").text(t));
rowLabels.forEach((t, ri) => svg.append("text")
  .attr("transform", `translate(44,${rowBottom[ri] - ph / 2}) rotate(-90)`)
  .attr("text-anchor", "middle").attr("font-size", 17).attr("font-weight", "bold").text(t));
svg.append("text").attr("transform", "translate(15,370) rotate(-90)").attr("text-anchor", "middle")
  .attr("font-size", 14).attr("font-weight", "bold").text("Dispersion");

// ---------- legend ----------
const legX = [112, 208, 304, 404, 501];
seriesNames.forEach((parts, i) => {
  const lg = svg.append("g");
  lg.append("line").attr("x1", legX[i]).attr("x2", legX[i] + 19).attr("y1", 726).attr("y2", 726)
    .attr("stroke", seriesColors[i]).attr("stroke-width", 1.5);
  const t = lg.append("text").attr("x", legX[i] + 24).attr("y", 730.5).attr("font-size", 12).attr("fill", "#111");
  parts.forEach((p, j) => t.append("tspan").attr("font-style", j % 2 === 0 ? "italic" : "normal").text(p));
});
</script></body></html>
